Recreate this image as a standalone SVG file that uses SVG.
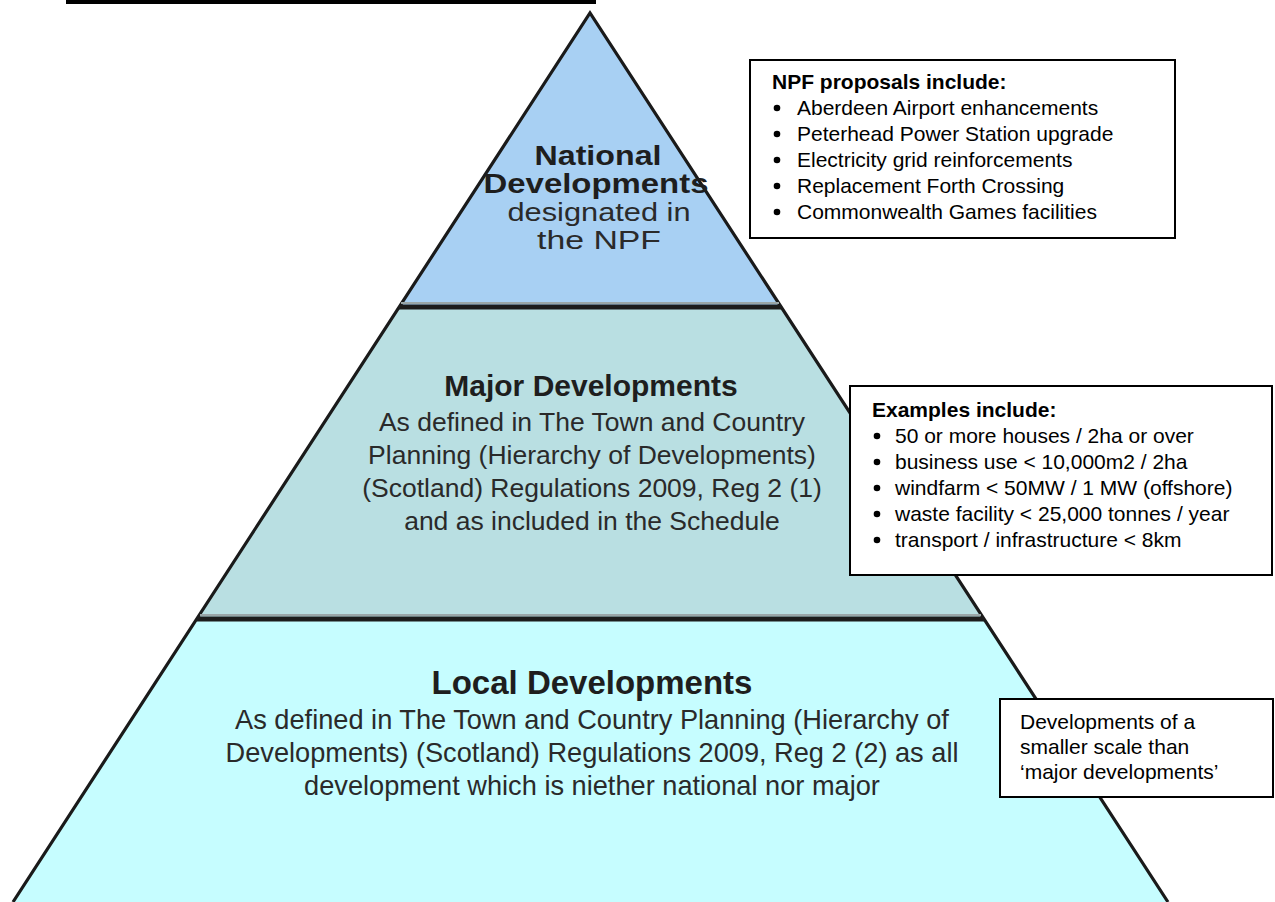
<svg xmlns="http://www.w3.org/2000/svg" width="1275" height="902" viewBox="0 0 1275 902">
<style>
.edge{fill:none;stroke:#1a1a1a;stroke-width:3.2;stroke-linejoin:miter}
.div{stroke:#1c1c1c;stroke-width:5}
.divs{stroke:#9aa6a8;stroke-width:2}
.ph{font-family:"Liberation Sans",Arial,sans-serif;font-weight:bold;fill:#1e1e1e;text-anchor:middle}
.pt{font-family:"Liberation Sans",Arial,sans-serif;fill:#2a2a2a;text-anchor:middle}
.box{fill:#fff;stroke:#000;stroke-width:2}
.bh{font-family:"Liberation Sans",Arial,sans-serif;font-weight:bold;font-size:21px;fill:#000}
.bt{font-family:"Liberation Sans",Arial,sans-serif;font-size:21px;fill:#000}
</style>
<rect x="0" y="0" width="1275" height="902" fill="#fff"/>
<rect x="66" y="0" width="530" height="4" fill="#000"/>
<g id="tier-local">
<polygon points="197,619 984,619 1168,902 13,902" fill="#c6fdff"/>
</g>
<g id="tier-major">
<polygon points="399,307 781,307 984,619 197,619" fill="#b9dfe2"/>
</g>
<g id="tier-national">
<polygon points="590,13 781,307 399,307" fill="#a8d0f3"/>
</g>
<g id="outline">
<polyline class="edge" points="13,902 590,13 1168,902"/>
<line class="divs" x1="401" y1="303" x2="779" y2="303"/>
<line class="div" x1="399" y1="307" x2="781" y2="307"/>
<line class="divs" x1="200" y1="615" x2="981" y2="615"/>
<line class="div" x1="197" y1="619" x2="984" y2="619"/>
</g>
<g id="national-text">
<text class="ph" x="598" y="165" font-size="28" textLength="127" lengthAdjust="spacingAndGlyphs">National</text>
<text class="ph" x="596" y="193" font-size="28" textLength="225" lengthAdjust="spacingAndGlyphs">Developments</text>
<text class="pt" x="599" y="221" font-size="26" textLength="183" lengthAdjust="spacingAndGlyphs">designated in</text>
<text class="pt" x="599" y="249" font-size="26" textLength="124" lengthAdjust="spacingAndGlyphs">the NPF</text>
</g>
<g id="major-text">
<text class="ph" x="591" y="396" font-size="30">Major Developments</text>
<text class="pt" x="592" y="431" font-size="26.5">As defined in The Town and Country</text>
<text class="pt" x="592" y="464" font-size="26.5">Planning (Hierarchy of Developments)</text>
<text class="pt" x="592" y="497" font-size="26.5">(Scotland) Regulations 2009, Reg 2 (1)</text>
<text class="pt" x="592" y="530" font-size="26.5">and as included in the Schedule</text>
</g>
<g id="local-text">
<text class="ph" x="592" y="694" font-size="33">Local Developments</text>
<text class="pt" x="592" y="729" font-size="27.2">As defined in The Town and Country Planning (Hierarchy of</text>
<text class="pt" x="592" y="762" font-size="27.2">Developments) (Scotland) Regulations 2009, Reg 2 (2) as all</text>
<text class="pt" x="592" y="795" font-size="27.2">development which is niether national nor major</text>
</g>
<g id="npf-box">
<rect class="box" x="750" y="60" width="425" height="178"/>
<text class="bh" x="772" y="89">NPF proposals include:</text>
<g class="bt">
<circle cx="777" cy="108" r="3.3"/><text x="797" y="115">Aberdeen Airport enhancements</text>
<circle cx="777" cy="134" r="3.3"/><text x="797" y="141">Peterhead Power Station upgrade</text>
<circle cx="777" cy="160" r="3.3"/><text x="797" y="167">Electricity grid reinforcements</text>
<circle cx="777" cy="186" r="3.3"/><text x="797" y="193">Replacement Forth Crossing</text>
<circle cx="777" cy="212" r="3.3"/><text x="797" y="219">Commonwealth Games facilities</text>
</g>
</g>
<g id="examples-box">
<rect class="box" x="850" y="386" width="422" height="189"/>
<text class="bh" x="872" y="417">Examples include:</text>
<g class="bt">
<circle cx="877" cy="436" r="3.3"/><text x="895" y="443">50 or more houses / 2ha or over</text>
<circle cx="877" cy="462" r="3.3"/><text x="895" y="469">business use &lt; 10,000m2 / 2ha</text>
<circle cx="877" cy="488" r="3.3"/><text x="895" y="495">windfarm &lt; 50MW / 1 MW (offshore)</text>
<circle cx="877" cy="514" r="3.3"/><text x="895" y="521">waste facility &lt; 25,000 tonnes / year</text>
<circle cx="877" cy="540" r="3.3"/><text x="895" y="547">transport / infrastructure &lt; 8km</text>
</g>
</g>
<g id="local-box">
<rect class="box" x="1000" y="699" width="273" height="98"/>
<g class="bt">
<text x="1020" y="729">Developments of a</text>
<text x="1020" y="754">smaller scale than</text>
<text x="1020" y="779">‘major developments’</text>
</g>
</g>
</svg>
